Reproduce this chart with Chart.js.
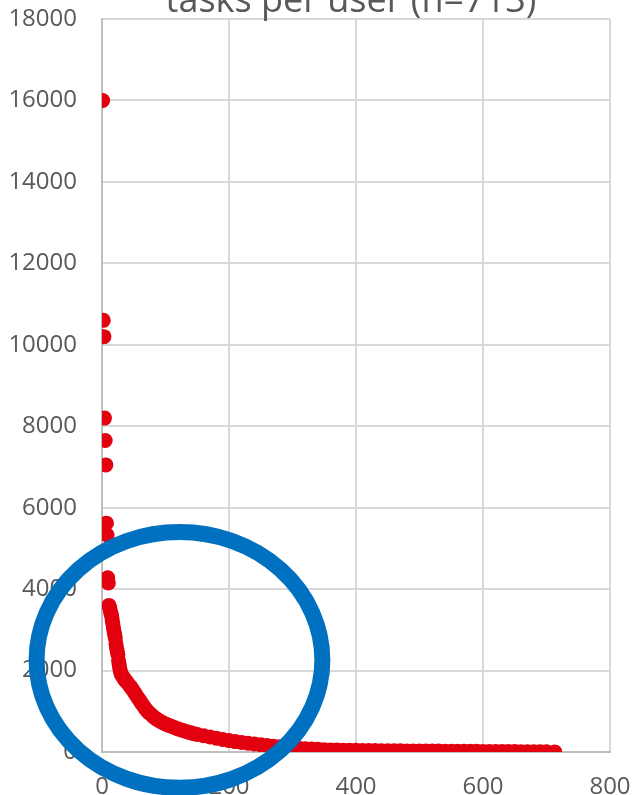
<!DOCTYPE html>
<html>
<head>
<meta charset="utf-8">
<script src="https://cdn.jsdelivr.net/npm/chart.js@4.4.1/dist/chart.umd.min.js"></script>
<style>
  html, body { margin: 0; padding: 0; background: #fff; }
  #wrap { width: 636px; height: 795px; position: relative; overflow: hidden; }
  /* the title is cropped at the top in the original picture */
  #title {
    position: absolute; left: 351px; top: -19px; transform: translateX(-50%);
    font: 36px/36px "Open Sans", sans-serif; color: #595959; white-space: nowrap;
  }
</style>
</head>
<body>
<div id="wrap">
  <canvas id="chart"></canvas>
  <div id="title">tasks per user (n=713)</div>
</div>
<script>
// rank of user (sorted by task count, descending)
const ranks = [
  1, 2, 3, 4, 5, 6, 7, 8, 9, 10,
  11, 12, 13, 14, 15, 16, 17, 18, 19, 20,
  21, 22, 23, 24, 25, 26, 27, 28, 29, 30,
  32, 34, 36, 38, 40, 43, 46, 49, 52, 55,
  58, 61, 64, 67, 70, 73, 76, 80, 84, 88,
  92, 96, 100, 105, 110, 115, 120, 125, 130, 135,
  140, 145, 150, 160, 170, 180, 190, 200, 210, 220,
  230, 240, 250, 260, 270, 280, 290, 300, 310, 320,
  330, 340, 350, 360, 370, 380, 390, 400, 410, 420,
  430, 440, 450, 460, 470, 480, 490, 500, 510, 520,
  530, 540, 550, 560, 570, 580, 590, 600, 610, 620,
  630, 640, 650, 660, 670, 680, 690, 700, 713
];
// tasks for that user
const tasks = [
  16000, 10600, 10200, 8200, 7650, 7050, 5620, 5330, 4280, 4150,
  3600, 3550, 3480, 3400, 3350, 3250, 3150, 3050, 2950, 2880,
  2800, 2650, 2550, 2480, 2400, 2250, 2150, 2050, 1980, 1920,
  1870, 1820, 1770, 1740, 1700, 1640, 1580, 1510, 1440, 1370,
  1300, 1230, 1160, 1090, 1030, 980, 940, 880, 830, 790,
  750, 720, 690, 655, 625, 595, 565, 540, 515, 490,
  470, 450, 430, 400, 370, 340, 310, 280, 255, 235,
  215, 195, 175, 158, 142, 128, 115, 100, 90, 80,
  72, 65, 58, 52, 48, 45, 42, 40, 38, 36,
  34, 32, 30, 29, 28, 27, 26, 25, 24, 23,
  22, 21, 20, 19, 18, 17, 16, 15, 14, 13,
  12, 11, 10, 9, 8, 7, 6, 5, 3
];

const xTicks = [0, 200, 400, 600, 800];
const yTicks = [0, 2000, 4000, 6000, 8000, 10000, 12000, 14000, 16000, 18000];

// hand-drawn highlight ring, given in data units
const ringCenter = { x: 122, y: 2260 };
const ringRadius = { x: 225, y: 3140 };

const ringPlugin = {
  id: 'ring',
  afterDraw(chart) {
    const { ctx, scales } = chart;
    const cx = scales.x.getPixelForValue(ringCenter.x);
    const cy = scales.y.getPixelForValue(ringCenter.y);
    const rx = scales.x.getPixelForValue(ringCenter.x + ringRadius.x) - cx;
    const ry = cy - scales.y.getPixelForValue(ringCenter.y + ringRadius.y);
    ctx.save();
    ctx.beginPath();
    ctx.ellipse(cx, cy, rx, ry, 0, 0, Math.PI * 2);
    ctx.lineWidth = 16;
    ctx.strokeStyle = '#0070C0';
    ctx.stroke();
    ctx.restore();
  }
};

const points = ranks.map((r, i) => ({ x: r, y: tasks[i] }));

new Chart(document.getElementById('chart'), {
  type: 'scatter',
  data: {
    datasets: [{
      label: 'tasks',
      data: points,
      backgroundColor: '#E3000F',
      borderColor: '#E3000F',
      borderWidth: 0,
      pointRadius: 7.5,
      pointHoverRadius: 7.5
    }]
  },
  options: {
    responsive: true,
    maintainAspectRatio: false,
    animation: false,
    layout: { padding: { left: 0, right: 0, top: 19, bottom: 0 } },
    scales: {
      x: {
        type: 'linear',
        min: 0,
        max: 800,
        afterBuildTicks: axis => { axis.ticks = xTicks.map(v => ({ value: v })); },
        afterFit: axis => { axis.height = 43; axis.paddingLeft = 0; axis.paddingRight = 26; },
        ticks: {
          color: '#595959',
          font: { family: 'Open Sans', size: 24, lineHeight: 1 },
          padding: 23,
          callback: v => String(v)
        },
        grid: { color: '#D9D9D9', lineWidth: 2, drawTicks: false },
        border: { color: '#BFBFBF', width: 2 }
      },
      y: {
        min: 0,
        max: 18000,
        afterBuildTicks: axis => { axis.ticks = yTicks.map(v => ({ value: v })); },
        afterFit: axis => { axis.width = 102; axis.paddingTop = 0; axis.paddingBottom = 0; },
        ticks: {
          color: '#595959',
          font: { family: 'Open Sans', size: 24 },
          padding: 25,
          callback: v => String(v)
        },
        grid: { color: '#D9D9D9', lineWidth: 2, drawTicks: false },
        border: { color: '#BFBFBF', width: 2 }
      }
    },
    plugins: {
      legend: { display: false },
      tooltip: { enabled: false },
      title: { display: false }
    }
  },
  plugins: [ringPlugin]
});
</script>
</body>
</html>
